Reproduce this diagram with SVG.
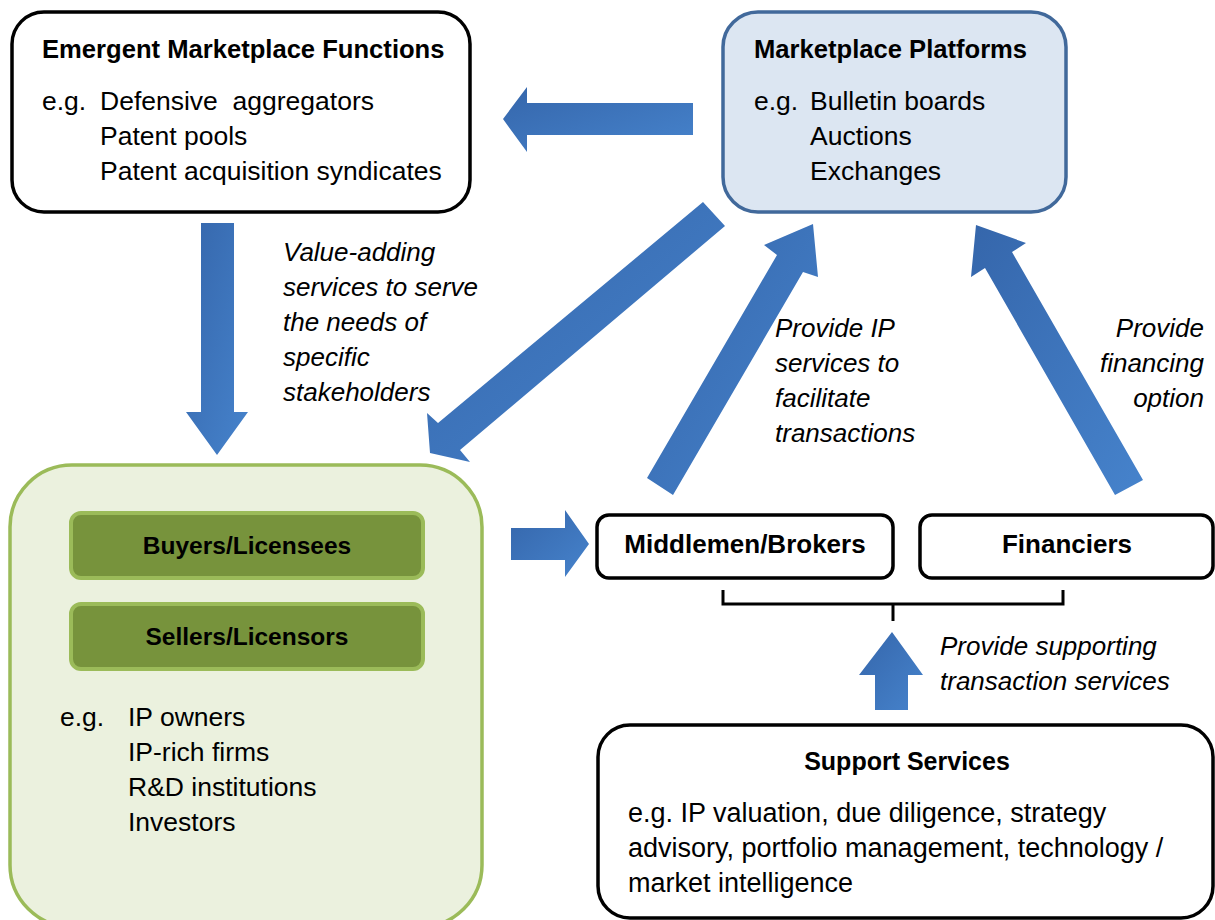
<svg xmlns="http://www.w3.org/2000/svg" width="1215" height="920" viewBox="0 0 1215 920">
<defs>
<linearGradient id="ag" x1="0" y1="0" x2="1" y2="1">
<stop offset="0" stop-color="#3566ab"/>
<stop offset="1" stop-color="#4683cc"/>
</linearGradient>
<style>
text{font-family:"Liberation Sans",Arial,sans-serif;fill:#000}
.t{font-weight:bold;font-size:25.6px}
.b{font-size:26.5px}
.i{font-style:italic;font-size:26px}
.box{fill:#fff;stroke:#000;stroke-width:3.5}
.arr{fill:url(#ag);stroke:none}
.sub{fill:#77933c;stroke:#9bbb59;stroke-width:4}
</style>
</defs>
<g id="connectors">
<polygon class="arr" points="693,103 527,103 527,87 503,119 527,152 527,135 693,135"/>
<polygon class="arr" points="201,223 234,223 234,412 248,412 217,455 186,412 201,412"/>
<polygon class="arr" points="703,202 725,226 460,450 470,462 430,453 427,413 438,423"/>
<polygon class="arr" points="647,478 673,495 803,272 818,277 813,224 764,245 777,255"/>
<polygon class="arr" points="1115,495 1143,480 1012,252 1026,243 976,225 971,277 985,268"/>
<polygon class="arr" points="511,528 565,528 565,510 589,544 565,577 565,560 511,560"/>
<polygon class="arr" points="875,710 908,710 908,675 923,675 892,632 859,675 875,675"/>
<path d="M723,590 V604 H1063 V590 M893,604 V621" fill="none" stroke="#000" stroke-width="3"/>
</g>
<g id="emergent">
<rect class="box" x="12" y="12" width="458" height="200" rx="32"/>
<text class="t" x="42" y="58">Emergent Marketplace Functions</text>
<text class="b" x="42" y="110">e.g.</text>
<text class="b" x="100" y="110" style="white-space:pre">Defensive  aggregators</text>
<text class="b" x="100" y="145">Patent pools</text>
<text class="b" x="100" y="180">Patent acquisition syndicates</text>
</g>
<g id="platforms">
<rect x="723" y="12" width="343" height="200" rx="35" fill="#dce6f2" stroke="#41699b" stroke-width="3.5"/>
<text class="t" x="754" y="58">Marketplace Platforms</text>
<text class="b" x="754" y="110">e.g.</text>
<text class="b" x="810" y="110">Bulletin boards</text>
<text class="b" x="810" y="145">Auctions</text>
<text class="b" x="810" y="180">Exchanges</text>
</g>
<g id="label-value">
<text class="i" x="283" y="261">Value-adding</text>
<text class="i" x="283" y="296">services to serve</text>
<text class="i" x="283" y="331">the needs of</text>
<text class="i" x="283" y="366">specific</text>
<text class="i" x="283" y="401">stakeholders</text>
</g>
<g id="label-ip">
<text class="i" x="775" y="337">Provide IP</text>
<text class="i" x="775" y="372">services to</text>
<text class="i" x="775" y="407">facilitate</text>
<text class="i" x="775" y="442">transactions</text>
</g>
<g id="label-fin">
<text class="i" x="1204" y="337" text-anchor="end">Provide</text>
<text class="i" x="1204" y="372" text-anchor="end">financing</text>
<text class="i" x="1204" y="407" text-anchor="end">option</text>
</g>
<g id="stakeholders">
<rect x="10" y="465" width="472" height="462" rx="62" fill="#ebf1de" stroke="#9bbb59" stroke-width="3.5"/>
<g id="buyers">
<rect class="sub" x="71" y="513" width="352" height="65" rx="10"/>
<text class="t" x="247" y="554" text-anchor="middle" style="font-size:24.5px">Buyers/Licensees</text>
</g>
<g id="sellers">
<rect class="sub" x="71" y="604" width="352" height="65" rx="10"/>
<text class="t" x="247" y="645" text-anchor="middle" style="font-size:24.5px">Sellers/Licensors</text>
</g>
<text class="b" x="60" y="726">e.g.</text>
<text class="b" x="128" y="726">IP owners</text>
<text class="b" x="128" y="761">IP-rich firms</text>
<text class="b" x="128" y="796">R&amp;D institutions</text>
<text class="b" x="128" y="831">Investors</text>
</g>
<g id="middlemen">
<rect class="box" x="597" y="515" width="296" height="63" rx="12"/>
<text class="t" x="745" y="553" text-anchor="middle" style="font-size:26px">Middlemen/Brokers</text>
</g>
<g id="financiers">
<rect class="box" x="920" y="515" width="293" height="63" rx="12"/>
<text class="t" x="1067" y="553" text-anchor="middle" style="font-size:26px">Financiers</text>
</g>
<g id="label-support">
<text class="i" x="940" y="655">Provide supporting</text>
<text class="i" x="940" y="690">transaction services</text>
</g>
<g id="support">
<rect class="box" x="598" y="725" width="615" height="193" rx="32"/>
<text class="t" x="907" y="770" text-anchor="middle" style="font-size:25px">Support Services</text>
<text class="b" x="628" y="822" style="font-size:27px">e.g. IP valuation, due diligence, strategy</text>
<text class="b" x="628" y="857" style="font-size:27px">advisory, portfolio management, technology /</text>
<text class="b" x="628" y="892" style="font-size:27px">market intelligence</text>
</g>
</svg>
